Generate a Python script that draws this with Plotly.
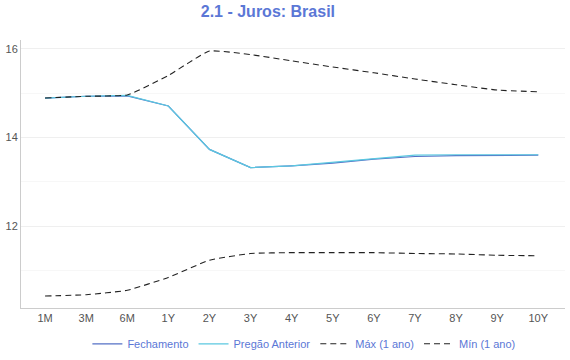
import plotly.graph_objects as go

categorias = ["1M", "3M", "6M", "1Y", "2Y", "3Y", "4Y", "5Y", "6Y", "7Y", "8Y", "9Y", "10Y"]
fechamento = [14.89, 14.93, 14.94, 14.71, 13.73, 13.32, 13.36, 13.42, 13.51, 13.57, 13.59, 13.60, 13.60]
pregao_anterior = [14.89, 14.93, 14.95, 14.71, 13.73, 13.32, 13.36, 13.44, 13.53, 13.60, 13.61, 13.61, 13.61]
max_1ano = [14.89, 14.93, 14.96, 15.40, 15.95, 15.87, 15.73, 15.59, 15.46, 15.32, 15.19, 15.07, 15.03]
min_1ano = [10.42, 10.45, 10.55, 10.84, 11.23, 11.38, 11.40, 11.40, 11.40, 11.38, 11.37, 11.34, 11.33]

fig = go.Figure()
fig.add_trace(go.Scatter(x=categorias, y=fechamento, name="Fechamento", mode="lines",
                         line=dict(color="#5470c6", width=1.2)))
fig.add_trace(go.Scatter(x=categorias, y=pregao_anterior, name="Pregão Anterior", mode="lines",
                         line=dict(color="#5bc8e0", width=1.2)))
fig.add_trace(go.Scatter(x=categorias, y=max_1ano, name="Máx (1 ano)", mode="lines",
                         line=dict(color="#222222", width=1.1, dash="6px,4px", shape="spline", smoothing=0.4)))
fig.add_trace(go.Scatter(x=categorias, y=min_1ano, name="Mín (1 ano)", mode="lines",
                         line=dict(color="#222222", width=1.1, dash="6px,4px", shape="spline", smoothing=0.4)))

fig.update_layout(
    width=570, height=360,
    margin=dict(l=21, r=5, t=40, b=52, autoexpand=False),
    paper_bgcolor="white", plot_bgcolor="white",
    font=dict(family="Liberation Sans, Arial, sans-serif", size=11, color="#555555"),
    title=dict(text="<b>2.1 - Juros: Brasil</b>", x=0.47, xanchor="center",
               yref="container", y=0.968, yanchor="middle",
               font=dict(size=16, color="#5b77d6")),
    showlegend=True,
    legend=dict(orientation="h", x=0.52, xanchor="center", yref="container", y=0.045, yanchor="middle",
                font=dict(size=11, color="#5b77d6")),
    xaxis=dict(type="category", range=[-0.585, 12.65], showgrid=False, showline=True, automargin=False,
               linecolor="#cccccc", linewidth=1, ticks="", tickfont=dict(size=11, color="#555555")),
    yaxis=dict(range=[10.15, 16.2], tickvals=[12, 14, 16], showgrid=True, gridcolor="#efefef",
               showline=True, linecolor="#cccccc", linewidth=1, zeroline=False, ticks="", automargin=False,
               tickfont=dict(size=11, color="#555555"),
               minor=dict(tickvals=[11, 13, 15], showgrid=True, gridcolor="#f7f7f7")),
)

fig.write_html("out.html", config={"displayModeBar": False},
               post_script="document.body.style.margin='0';")
